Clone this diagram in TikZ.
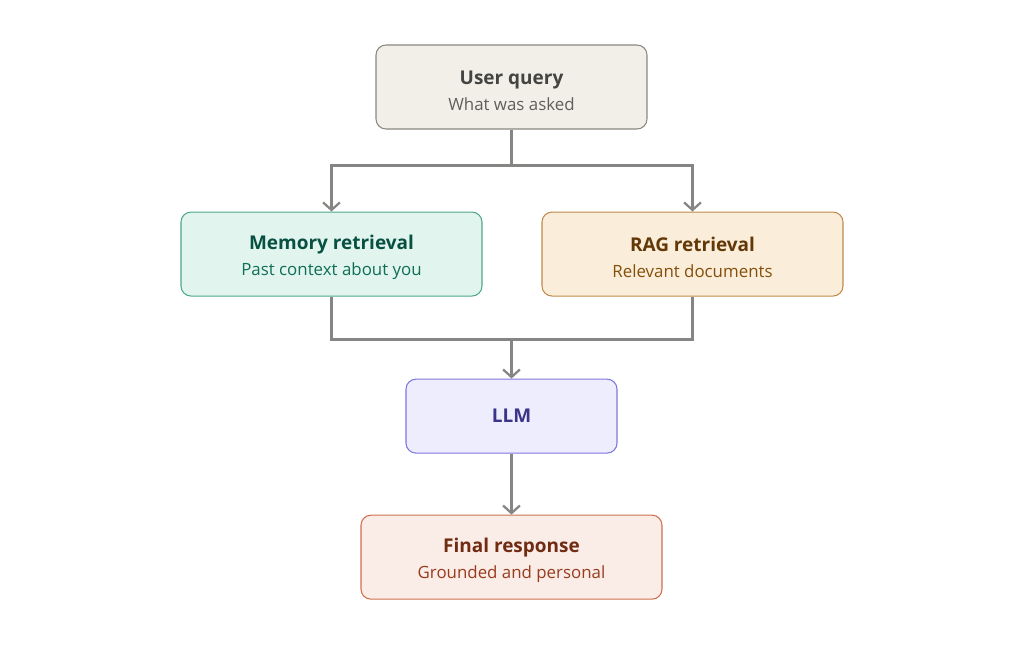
\documentclass[tikz,border=0pt]{standalone}
\usepackage{fontspec}
\setmainfont{Open Sans}
\usepackage{tikz}
\usetikzlibrary{arrows.meta, calc, positioning}
\definecolor{qfill}{HTML}{F1EFE8}
\definecolor{qdraw}{HTML}{8A8880}
\definecolor{qtitle}{HTML}{444441}
\definecolor{qsub}{HTML}{5F5E5A}
\definecolor{memfill}{HTML}{E1F5EE}
\definecolor{memdraw}{HTML}{4FA888}
\definecolor{memtitle}{HTML}{085041}
\definecolor{memsub}{HTML}{0F6E56}
\definecolor{ragfill}{HTML}{FAEEDA}
\definecolor{ragdraw}{HTML}{C08A4A}
\definecolor{ragtitle}{HTML}{633806}
\definecolor{ragsub}{HTML}{854F0B}
\definecolor{llmfill}{HTML}{EEEDFE}
\definecolor{llmdraw}{HTML}{7F77DD}
\definecolor{llmtext}{HTML}{3C3489}
\definecolor{finfill}{HTML}{FAECE7}
\definecolor{findraw}{HTML}{D0704E}
\definecolor{fintitle}{HTML}{712B13}
\definecolor{finsub}{HTML}{993C1D}
\definecolor{wire}{HTML}{858583}

\begin{document}
\begin{tikzpicture}[
    font=\fontsize{12}{18.5}\selectfont,
    box/.style={rectangle, rounded corners=0.25cm, draw, line width=0.75pt,
                minimum height=2.1cm, align=center, inner sep=0pt},
    querybox/.style={box, fill=qfill, draw=qdraw, minimum width=6.775cm},
    membox/.style={box, fill=memfill, draw=memdraw, minimum width=7.525cm},
    ragbox/.style={box, fill=ragfill, draw=ragdraw, minimum width=7.525cm},
    llmbox/.style={box, fill=llmfill, draw=llmdraw, minimum width=5.275cm,
                   minimum height=1.85cm},
    finbox/.style={box, fill=finfill, draw=findraw, minimum width=7.525cm},
    arr/.style={-{Straight Barb[length=1.9mm, width=4.2mm]}, line width=1.6pt, color=wire},
    wire/.style={line width=1.6pt, color=wire}
]
% Top: the query
\node[querybox] (query)
  {\rule{0pt}{14.6pt}{\fontsize{13.5}{18.5}\selectfont\bfseries\color{qtitle}User query}\\
  \color{qsub}What was asked};

% Row 2: two retrieval paths
\node[membox, below=2.05cm of query, xshift=-4.5cm] (mem)
  {\rule{0pt}{14.6pt}{\fontsize{13.5}{18.5}\selectfont\bfseries\color{memtitle}Memory retrieval}\\
  \color{memsub}Past context about you};
\node[ragbox, below=2.05cm of query, xshift=4.525cm] (rag)
  {\rule{0pt}{14.6pt}{\fontsize{13.5}{18.5}\selectfont\bfseries\color{ragtitle}RAG retrieval}\\
  \color{ragsub}Relevant documents};

% Row 3: model, then the answer
\coordinate (rowtwo) at (mem.south -| query.south);
\node[llmbox, below=2.05cm of rowtwo] (llm)
  {\fontsize{13.5}{18.5}\selectfont\bfseries\color{llmtext}LLM};
\node[finbox, below=1.525cm of llm] (fin)
  {\rule{0pt}{14.6pt}{\fontsize{13.5}{18.5}\selectfont\bfseries\color{fintitle}Final response}\\
  \color{finsub}Grounded and personal};

% Bounding box (reference margins)
\useasboundingbox (-12.7875,2.175) rectangle (12.8125,-14.25);

% Buses
\coordinate (split) at ([yshift=-0.9cm]query.south);
\coordinate (merge) at ([yshift=-1.075cm]rowtwo);

% Fan-out from the query
\draw[wire] (query.south) -- (split);
\draw[arr] (split) -| (mem.north);
\draw[arr] (split) -| (rag.north);

% Fan-in to the model
\draw[wire] (mem.south) |- (merge);
\draw[wire] (rag.south) |- (merge);
\draw[arr] (merge) -- (llm.north);
\draw[arr] (llm.south) -- (fin.north);
\end{tikzpicture}
\end{document}
